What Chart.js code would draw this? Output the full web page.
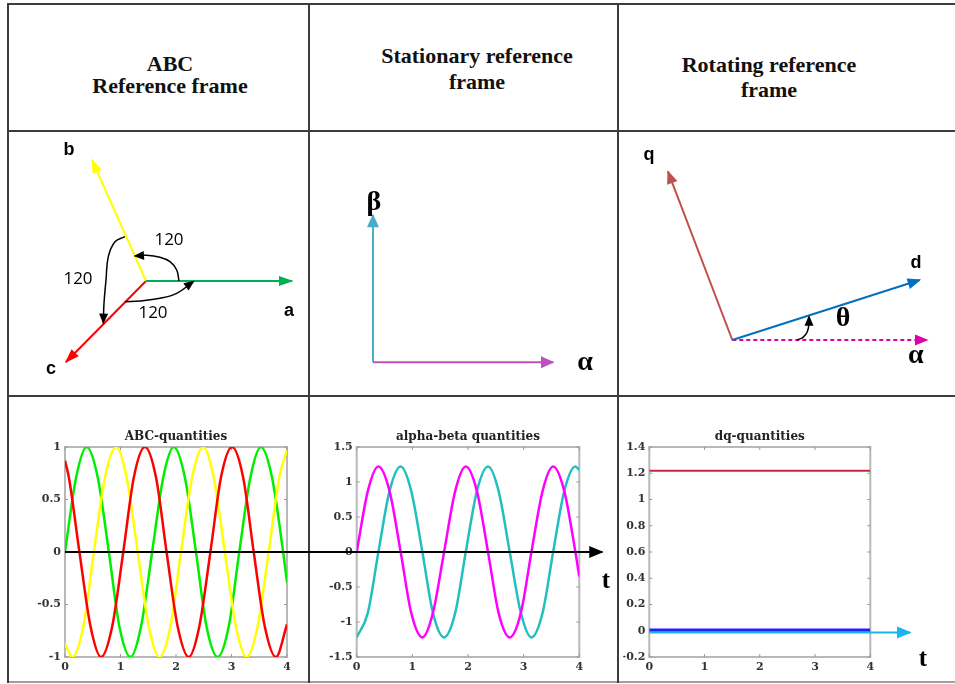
<!DOCTYPE html>
<html lang="en">
<head>
  <meta charset="UTF-8">
  <title>ABC, stationary and rotating reference frames</title>
  <script src="https://cdn.jsdelivr.net/npm/chart.js"></script>
  <style>
    body {
      margin: 0;
      width: 955px;
      height: 684px;
      overflow: hidden;
      position: relative;
      background: #fff;
      font-family: "Liberation Serif", serif;
    }
    .rule { position: absolute; background: #3c3c3c; }
    .head {
      position: absolute;
      width: 300px;
      text-align: center;
      font-weight: bold;
      font-size: 22px;
      color: #111;
    }
    .tlab {
      position: absolute;
      font: bold 25px "Liberation Serif", serif;
      transform: translate(-50%, -50%);
    }
    canvas { position: absolute; }
  </style>
</head>
<body>
  <!-- table rules -->
  <div class="rule" style="left:7px;top:3px;width:948px;height:2px"></div>
  <div class="rule" style="left:7px;top:130px;width:948px;height:2px"></div>
  <div class="rule" style="left:7px;top:395px;width:948px;height:2px"></div>
  <div class="rule" style="left:7px;top:681px;width:948px;height:2px;background:#a0a0a0"></div>
  <div class="rule" style="left:7px;top:3px;width:2px;height:680px"></div>
  <div class="rule" style="left:308px;top:3px;width:2px;height:680px"></div>
  <div class="rule" style="left:617px;top:3px;width:2px;height:680px"></div>

  <div class="head" style="left:20px;top:53px;line-height:22px">ABC<br>Reference frame</div>
  <div class="head" style="left:327px;top:43px;line-height:26px">Stationary reference<br>frame</div>
  <div class="head" style="left:619px;top:52px;line-height:25px">Rotating reference<br>frame</div>

  <canvas id="abcFrame" width="297" height="261" style="left:10px;top:133px"></canvas>
  <canvas id="abFrame" width="306" height="261" style="left:310px;top:133px"></canvas>
  <canvas id="dqFrame" width="335" height="261" style="left:620px;top:133px"></canvas>

  <canvas id="abPlot" width="300" height="282" style="left:312px;top:400px"></canvas>
  <canvas id="dqPlot" width="335" height="282" style="left:620px;top:400px"></canvas>
  <canvas id="abcPlot" width="600" height="282" style="left:10px;top:400px"></canvas>

  <div class="tlab" style="left:606px;top:580px">t</div>
  <div class="tlab" style="left:923px;top:658px">t</div>

  <script>
    // ---- phasor diagrams (origin at 0,0, one unit = 10 px) ----
    const vecA = [[0, 0], [14.6, 0]];
    const vecB = [[0, 0], [-5.4, 12.1]];
    const vecC = [[0, 0], [-8.0, -8.1]];
    const arcAB = [[3.3, 0], [3.07, 1.1], [2.4, 1.93], [1.4, 2.37], [0.07, 2.57], [-1.1, 2.5]];
    const arcBC = [[-2.1, 4.43], [-3.1, 3.93], [-3.77, 2.43], [-4.0, 0.1], [-4.2, -2.23], [-4.27, -4.17]];
    const arcCA = [[-2.1, -2.07], [-0.6, -2.0], [1.4, -1.73], [3.07, -1.23], [4.73, -0.07]];
    const abcNames = ['a', 'b', 'c'];
    const abcNameAt = [[14.3, -3.0], [-7.7, 13.1], [-9.5, -8.8]];
    const angleText = ['120', '120', '120'];
    const angleAt = [[2.3, 4.1], [-6.8, 0.2], [0.7, -3.2]];

    const vecAlpha = [[0, 0], [18.0, 0]];
    const vecBeta = [[0, 0], [0, 14.7]];
    const abNames = ['α', 'β'];
    const abNameAt = [[21.2, 0], [0.1, 16.0]];

    const vecD = [[0, 0], [18.74, 6.0]];
    const vecQ = [[0, 0], [-6.43, 16.83]];
    const vecAlpha2 = [[0, 0], [19.47, 0]];
    const arcTheta = [[6.47, 0], [7.07, 0.27], [7.5, 0.83], [7.67, 1.67], [7.67, 2.33]];
    const dqNames = ['q', 'd', 'θ', 'α'];
    const dqNameAt = [[-8.33, 18.5], [18.37, 7.73], [11.07, 2.1], [18.34, -1.6]];

    // ---- time plots ----
    const timeTicks = [0, 1, 2, 3, 4];
    const abcTicks = [-1, -0.5, 0, 0.5, 1];
    const abTicks = [-1.5, -1, -0.5, 0, 0.5, 1, 1.5];
    const dqTicks = [-0.2, 0, 0.2, 0.4, 0.6, 0.8, 1, 1.2, 1.4];

    const tA = [0, 0.20, 0.39, 0.59, 0.79, 0.98, 1.18, 1.37, 1.57, 1.77, 1.96, 2.16, 2.36, 2.55, 2.75, 2.95, 3.14, 3.34, 3.53, 3.73, 3.93, 4.00];
    const phaseA = [0, 0.71, 1, 0.71, 0, -0.71, -1, -0.71, 0, 0.71, 1, 0.71, 0, -0.71, -1, -0.71, 0, 0.71, 1, 0.71, 0, -0.29];
    const tB = [0, 0.13, 0.33, 0.52, 0.72, 0.92, 1.11, 1.31, 1.51, 1.70, 1.90, 2.09, 2.29, 2.49, 2.68, 2.88, 3.08, 3.27, 3.47, 3.67, 3.86, 4.00];
    const phaseB = [-0.87, -1, -0.71, 0, 0.71, 1, 0.71, 0, -0.71, -1, -0.71, 0, 0.71, 1, 0.71, 0, -0.71, -1, -0.71, 0, 0.71, 0.97];
    const tC = [0, 0.07, 0.26, 0.46, 0.65, 0.85, 1.05, 1.24, 1.44, 1.64, 1.83, 2.03, 2.23, 2.42, 2.62, 2.81, 3.01, 3.21, 3.40, 3.60, 3.80, 4.00];
    const phaseC = [0.87, 0.71, 0, -0.71, -1, -0.71, 0, 0.71, 1, 0.71, 0, -0.71, -1, -0.71, 0, 0.71, 1, 0.71, 0, -0.71, -1, -0.69];

    const alphaVals = [0, 0.87, 1.22, 0.87, 0, -0.87, -1.22, -0.87, 0, 0.87, 1.22, 0.87, 0, -0.87, -1.22, -0.87, 0, 0.87, 1.22, 0.87, 0, -0.35];
    const betaVals = [-1.22, -0.87, 0, 0.87, 1.22, 0.87, 0, -0.87, -1.22, -0.87, 0, 0.87, 1.22, 0.87, 0, -0.87, -1.22, -0.87, 0, 0.87, 1.22, 1.17];

    const dqT = [0, 4];
    const dVals = [1.22, 1.22];
    const qVals = [0.005, 0.005];
    const tAxisABC = [[0, 0], [9.68, 0]];
    const tAxisDQ = [[0, -0.013], [4.72, -0.013]];

    const pairs = arr => arr.map(([x, y]) => ({ x, y }));
    const series = (xs, ys) => xs.map((x, i) => ({ x, y: ys[i] }));

    // arrow heads at the last point of any dataset that asks for one
    const arrowHeads = {
      id: 'arrowHeads',
      afterDatasetsDraw(chart) {
        const ctx = chart.ctx;
        chart.data.datasets.forEach((ds, i) => {
          if (!ds.arrow) return;
          const pts = chart.getDatasetMeta(i).data;
          const p = pts[pts.length - 1], q = pts[pts.length - 2];
          let bx = p.cp1x, by = p.cp1y;
          if (bx === undefined || Math.hypot(p.x - bx, p.y - by) < 0.5) { bx = q.x; by = q.y; }
          const ang = Math.atan2(p.y - by, p.x - bx);
          ctx.save();
          ctx.translate(p.x, p.y);
          ctx.rotate(ang);
          ctx.beginPath();
          ctx.moveTo(1.5, 0);
          ctx.lineTo(-ds.arrow[0], -ds.arrow[1]);
          ctx.lineTo(-ds.arrow[0], ds.arrow[1]);
          ctx.closePath();
          ctx.fillStyle = ds.borderColor;
          ctx.fill();
          ctx.restore();
        });
      }
    };

    function textMarks(texts, anchors, fonts) {
      return {
        id: 'textMarks',
        afterDraw(chart) {
          const { ctx, scales: { x, y } } = chart;
          ctx.save();
          ctx.fillStyle = '#000';
          ctx.textAlign = 'center';
          ctx.textBaseline = 'middle';
          texts.forEach((t, i) => {
            ctx.font = fonts[i];
            ctx.fillText(t, x.getPixelForValue(anchors[i][0]), y.getPixelForValue(anchors[i][1]));
          });
          ctx.restore();
        }
      };
    }

    function plotBox(title) {
      return {
        id: 'plotBox',
        beforeDatasetsDraw(chart) {
          const { ctx, chartArea: a, scales: { x, y } } = chart;
          ctx.save();
          ctx.strokeStyle = '#b8b8b8';
          ctx.lineWidth = 2;
          ctx.strokeRect(a.left, a.top, a.right - a.left, a.bottom - a.top);
          ctx.strokeStyle = '#999';
          ctx.lineWidth = 1;
          ctx.beginPath();
          x.ticks.forEach(t => {
            const px = x.getPixelForValue(t.value);
            ctx.moveTo(px, a.bottom); ctx.lineTo(px, a.bottom - 3);
            ctx.moveTo(px, a.top); ctx.lineTo(px, a.top + 3);
          });
          y.ticks.forEach(t => {
            const py = y.getPixelForValue(t.value);
            ctx.moveTo(a.left, py); ctx.lineTo(a.left + 3, py);
            ctx.moveTo(a.right, py); ctx.lineTo(a.right - 3, py);
          });
          ctx.stroke();
          ctx.fillStyle = '#222';
          ctx.font = 'bold 12px "DejaVu Serif"';
          ctx.textAlign = 'center';
          ctx.textBaseline = 'middle';
          ctx.fillText(title, (a.left + a.right) / 2, a.top - 10);
          ctx.restore();
        }
      };
    }

    const tickFont = { family: 'DejaVu Serif', size: 11, weight: 'bold' };

    function makePlot(id, pad, yWidth, yMin, yMax, yTicks, title, datasets) {
      new Chart(document.getElementById(id), {
        type: 'scatter',
        data: { datasets },
        options: {
          responsive: false,
          animation: false,
          devicePixelRatio: 1,
          layout: { padding: pad },
          plugins: { legend: { display: false }, tooltip: { enabled: false } },
          elements: { point: { radius: 0 } },
          scales: {
            x: {
              type: 'linear', min: 0, max: 4,
              grid: { display: false, drawTicks: false },
              border: { display: false },
              afterBuildTicks: s => { s.ticks = timeTicks.map(v => ({ value: v })); },
              afterFit: s => { s.height = 18; },
              ticks: { font: tickFont, color: '#333', padding: 4, maxRotation: 0, autoSkip: false, callback: v => String(v) }
            },
            y: {
              type: 'linear', min: yMin, max: yMax,
              grid: { display: false, drawTicks: false },
              border: { display: false },
              afterBuildTicks: s => { s.ticks = yTicks.map(v => ({ value: v })); },
              afterFit: s => { s.width = yWidth; },
              ticks: { font: tickFont, color: '#333', padding: 4, autoSkip: false, callback: v => String(v) }
            }
          }
        },
        plugins: [plotBox(title), arrowHeads]
      });
    }

    function makeDiagram(id, xr, yr, datasets, marks) {
      new Chart(document.getElementById(id), {
        type: 'scatter',
        data: { datasets },
        options: {
          responsive: false,
          animation: false,
          devicePixelRatio: 1,
          layout: { padding: 0 },
          plugins: { legend: { display: false }, tooltip: { enabled: false } },
          elements: { point: { radius: 0 } },
          scales: {
            x: { type: 'linear', display: false, min: xr[0], max: xr[1] },
            y: { type: 'linear', display: false, min: yr[0], max: yr[1] }
          }
        },
        plugins: [arrowHeads, marks]
      });
    }

    const vec = (pts, color, extra) => Object.assign({ data: pairs(pts), showLine: true, borderColor: color, borderWidth: 2, arrow: [12, 5], clip: false }, extra || {});
    const arc = pts => vec(pts, '#000', { borderWidth: 1.5, tension: 0.4, arrow: [9, 4.5] });

    const SANS_B = 'bold 18px "Liberation Sans"';
    const NUM = '17px "Open Sans"';
    const GREEK = 'bold 28px "Liberation Serif"';

    makeDiagram('abcFrame', [-13.6, 16.1], [-11.3, 14.8], [
      arc(arcAB), arc(arcBC), arc(arcCA),
      vec(vecA, '#00b050', { arrow: [13, 5] }),
      vec(vecB, '#ffff00', { arrow: [13, 5] }),
      vec(vecC, '#ff0000', { arrow: [13, 5] })
    ], textMarks(abcNames.concat(angleText), abcNameAt.concat(angleAt), [SANS_B, SANS_B, SANS_B, NUM, NUM, NUM]));

    makeDiagram('abFrame', [-6.3, 24.3], [-3.17, 22.93], [
      vec(vecAlpha, '#bf4fbf', { arrow: [12, 6] }),
      vec(vecBeta, '#4bacc6', { arrow: [12, 6] })
    ], textMarks(abNames, abNameAt, [GREEK, GREEK]));

    makeDiagram('dqFrame', [-11.23, 22.27], [-5.4, 20.7], [
      arc(arcTheta),
      vec(vecD, '#0070c0', { arrow: [12, 5.5] }),
      vec(vecQ, '#c0504d', { arrow: [12, 5.5] }),
      vec(vecAlpha2, '#dd00aa', { borderDash: [4, 3], arrow: [12, 5.5] })
    ], textMarks(dqNames, dqNameAt, [SANS_B, SANS_B, GREEK, GREEK]));

    const wave = (xs, ys, color) => ({ data: series(xs, ys), showLine: true, borderColor: color, borderWidth: 2.5, cubicInterpolationMode: 'monotone' });

    makePlot('abcPlot', { left: 15, right: 323, top: 47, bottom: 7 }, 40, -1, 1, abcTicks, 'ABC-quantities', [
      { data: pairs(tAxisABC), showLine: true, borderColor: '#000', borderWidth: 2, clip: false, arrow: [13, 6] },
      wave(tC, phaseC, '#ff0000'),
      wave(tB, phaseB, '#ffff00'),
      wave(tA, phaseA, '#00ee00')
    ]);

    makePlot('abPlot', { left: 6.7, right: 32.7, top: 47, bottom: 7 }, 38, -1.5, 1.5, abTicks, 'alpha-beta quantities', [
      wave(tA, alphaVals, '#ff00ff'),
      wave(tA, betaVals, '#22bfbf')
    ]);

    makePlot('dqPlot', { left: 3.3, right: 84.7, top: 47, bottom: 7 }, 26, -0.2, 1.4, dqTicks, 'dq-quantities', [
      { data: series(dqT, qVals), showLine: true, borderColor: '#2020ff', borderWidth: 3 },
      { data: pairs(tAxisDQ), showLine: true, borderColor: '#1ab4f0', borderWidth: 2, clip: false, arrow: [13, 6] },
      { data: series(dqT, dVals), showLine: true, borderColor: '#c8283c', borderWidth: 2 }
    ]);
  </script>
</body>
</html>
